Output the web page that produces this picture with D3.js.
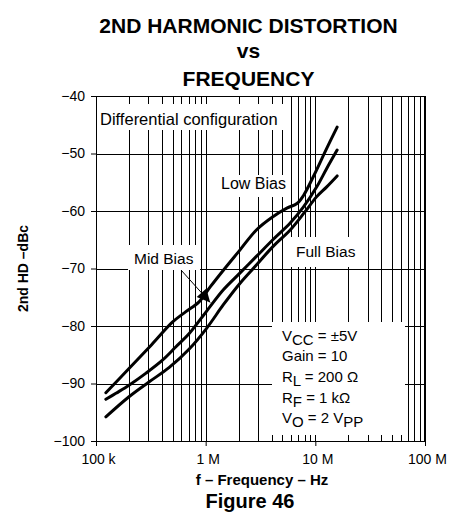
<!DOCTYPE html>
<html><head><meta charset="utf-8">
<script src="https://cdn.jsdelivr.net/npm/d3@7"></script>
<style>
html,body{margin:0;padding:0;background:#fff;}
svg{display:block;font-family:"Liberation Sans",Arial,Helvetica,sans-serif;}
</style></head>
<body>
<svg id="c" width="458" height="512"></svg>
<script>
// ---- data ----
const titleLines = ["2ND HARMONIC DISTORTION", "vs", "FREQUENCY"];
const yTicks = [-100, -90, -80, -70, -60, -50, -40];
const xTickValues = [1e5, 1e6, 1e7, 1e8];
const xTickLabels = ["100 k", "1 M", "10 M", "100 M"];

const lowBiasFreq = [1.23e5, 2.0e5, 3.2e5, 5.0e5, 6.6e5, 8.7e5, 1.1e6, 1.45e6, 2.05e6, 2.9e6, 4.1e6, 5.5e6, 6.8e6, 7.8e6, 9.6e6, 1.27e7, 1.58e7];
const lowBiasDb   = [-91.6, -87.4, -83.3, -79.3, -77.5, -75.8, -73.2, -70.3, -66.8, -63.3, -61.0, -59.5, -58.7, -57.3, -54.0, -49.1, -45.4];

const midBiasFreq = [1.23e5, 1.52e5, 2.0e5, 2.86e5, 4.06e5, 5.36e5, 7.08e5, 9.4e5, 1.1e6, 1.45e6, 2.05e6, 2.9e6, 4.1e6, 5.9e6, 7.8e6, 1.03e7, 1.27e7, 1.58e7];
const midBiasDb   = [-92.75, -91.7, -90.3, -88.2, -85.9, -83.6, -81.3, -78.3, -76.6, -73.7, -70.8, -67.9, -65.0, -62.1, -59.3, -55.8, -52.6, -49.4];

const fullBiasFreq = [1.23e5, 2.0e5, 3.06e5, 4.66e5, 7.08e5, 1.02e6, 1.45e6, 2.05e6, 2.9e6, 4.1e6, 5.9e6, 8.0e6, 1.03e7, 1.27e7, 1.58e7];
const fullBiasDb   = [-95.8, -92.3, -89.7, -87.2, -84.0, -80.4, -76.3, -72.6, -69.4, -66.2, -63.3, -60.2, -57.5, -55.8, -53.9];

const conditionLines = [
  ["V", "CC", " = \u00B15V"],
  ["Gain = 10", "", ""],
  ["R", "L", " = 200 \u03A9"],
  ["R", "F", " = 1 k\u03A9"],
  ["V", "O", " = 2 V", "PP"]
];

// ---- layout ----
const svg = d3.select("#c");
const L = 96, R = 425, T = 96, B = 441;
const x = d3.scaleLog().domain([1e5, 1e8]).range([L, R]);
const y = d3.scaleLinear().domain([-100, -40]).range([B, T]);

// title
svg.append("g").selectAll("text").data(titleLines).join("text")
  .attr("x", 248.5).attr("y", (d, i) => [33.3, 58.3, 86][i])
  .attr("text-anchor", "middle").attr("font-weight", "bold").attr("font-size", 21)
  .text(d => d);

// grid
const minor = [];
for (let e = 5; e < 8; e++) for (let m = 1; m <= 9; m++) minor.push(m * Math.pow(10, e));
minor.push(1e8);
const grid = svg.append("g").attr("stroke", "#000").attr("stroke-width", 1).attr("shape-rendering", "crispEdges");
grid.selectAll("line.v").data(minor).join("line").attr("class", "v")
  .attr("x1", d => Math.round(x(d)) + 0.5).attr("x2", d => Math.round(x(d)) + 0.5)
  .attr("y1", T).attr("y2", B);
grid.selectAll("line.h").data(yTicks).join("line").attr("class", "h")
  .attr("x1", L).attr("x2", R)
  .attr("y1", d => Math.round(y(d)) + 0.5).attr("y2", d => Math.round(y(d)) + 0.5);

// axes
const yAxis = d3.axisLeft(y).tickValues(yTicks).tickSize(5).tickPadding(6)
  .tickFormat(d => d < 0 ? "\u2212" + Math.abs(d) : d);
const gy = svg.append("g").attr("transform", `translate(${L},0)`).call(yAxis);
gy.select(".domain").remove();
gy.selectAll("text").attr("font-size", 14).attr("font-family", "Liberation Sans, Arial, sans-serif").attr("fill", "#000");
gy.selectAll("line").attr("stroke", "#000");

const xAxis = d3.axisBottom(x).tickValues(xTickValues).tickSize(5).tickPadding(8)
  .tickFormat((d, i) => xTickLabels[i]);
const gx = svg.append("g").attr("transform", `translate(0,${B})`).call(xAxis);
gx.select(".domain").remove();
gx.selectAll("text").attr("font-size", 14).attr("font-family", "Liberation Sans, Arial, sans-serif").attr("fill", "#000").attr("dx", 2);
gx.selectAll("line").attr("stroke", "#000");

// axis titles
svg.append("text").attr("transform", "translate(28,268.5) rotate(-90)")
  .attr("text-anchor", "middle").attr("font-weight", "bold").attr("font-size", 14)
  .text("2nd HD \u2013dBc");
svg.append("text").attr("x", 262).attr("y", 485).attr("text-anchor", "middle")
  .attr("font-weight", "bold").attr("font-size", 15).text("f \u2013 Frequency \u2013 Hz");
svg.append("text").attr("x", 250).attr("y", 508).attr("text-anchor", "middle")
  .attr("font-weight", "bold").attr("font-size", 20).text("Figure 46");

// label boxes
function box(x0, y0, w, h) {
  svg.append("rect").attr("x", x0).attr("y", y0).attr("width", w).attr("height", h).attr("fill", "#fff");
}
box(97, 104, 190, 26);
box(214, 175, 76, 22);
box(128, 245, 72, 25);
box(287, 237, 73, 30);
box(272, 322, 133, 113);

svg.append("text").attr("x", 100).attr("y", 125).attr("font-size", 16.5).text("Differential configuration");
svg.append("text").attr("x", 221).attr("y", 188.5).attr("font-size", 16).text("Low Bias");
svg.append("text").attr("x", 134).attr("y", 264).attr("font-size", 15.5).text("Mid Bias");
svg.append("text").attr("x", 296).attr("y", 257).attr("font-size", 15.5).text("Full Bias");

const cond = svg.append("g");
conditionLines.forEach((parts, i) => {
  const t = cond.append("text").attr("x", 282).attr("y", 340.5 + i * 20.7).attr("font-size", 15);
  t.append("tspan").text(parts[0]);
  if (parts[1]) t.append("tspan").attr("dy", 4).text(parts[1]);
  if (parts[2]) t.append("tspan").attr("dy", parts[1] ? -4 : 0).text(parts[2]);
  if (parts[3]) t.append("tspan").attr("dy", 4).text(parts[3]);
});

// border
svg.append("rect").attr("x", L + 0.5).attr("y", T + 0.5).attr("width", R - L - 1).attr("height", B - T)
  .attr("fill", "none").attr("stroke", "#000").attr("stroke-width", 1);

// curves
const line = d3.line().x(d => x(d[0])).y(d => y(d[1])).curve(d3.curveCatmullRom.alpha(0.5));
const series = [
  d3.zip(lowBiasFreq, lowBiasDb),
  d3.zip(midBiasFreq, midBiasDb),
  d3.zip(fullBiasFreq, fullBiasDb)
];
svg.append("g").selectAll("path").data(series).join("path")
  .attr("d", line).attr("fill", "none").attr("stroke", "#000").attr("stroke-width", 3)
  .attr("stroke-linecap", "round").attr("stroke-linejoin", "round");

// arrow from Mid Bias label
svg.append("defs").append("marker").attr("id", "ah").attr("viewBox", "0 0 10 10")
  .attr("refX", 10).attr("refY", 5).attr("markerWidth", 15).attr("markerHeight", 13)
  .attr("markerUnits", "userSpaceOnUse").attr("orient", "auto")
  .append("path").attr("d", "M0,0 L10,5 L0,10 Z").attr("fill", "#000");
const tipF = 1.1e6, tipDb = -75.9;
svg.append("line").attr("x1", 181).attr("y1", 270)
  .attr("x2", x(tipF)).attr("y2", y(tipDb))
  .attr("stroke", "#000").attr("stroke-width", 1).attr("marker-end", "url(#ah)");
</script>
</body></html>
